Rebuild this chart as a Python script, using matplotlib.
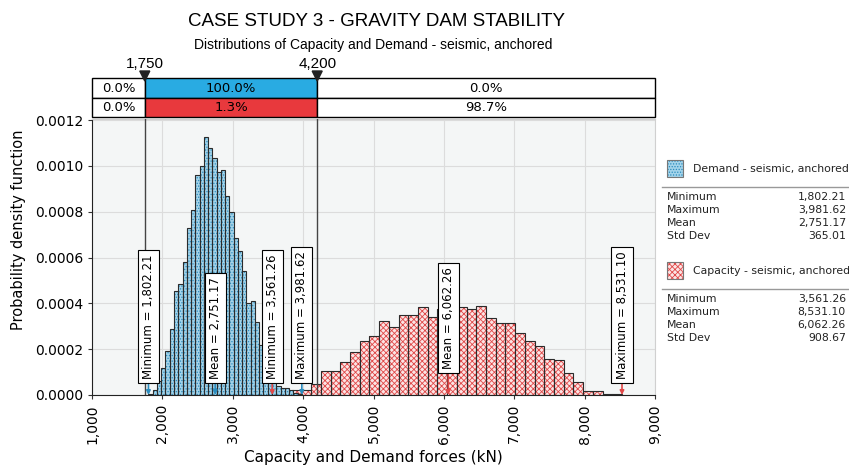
import matplotlib
matplotlib.use('Agg')
import matplotlib.pyplot as plt
import numpy as np
from matplotlib.patches import Rectangle, Polygon

# Données (densités par classe, 36 classes entre min et max)
demand_min, demand_max, demand_mean, demand_std = 1802.21, 3981.62, 2751.17, 365.01
demand_pdf = [0.000005, 0.00002, 0.00006, 0.00012, 0.00019, 0.00029, 0.000455, 0.000484,
              0.00058, 0.000728, 0.000808, 0.000961, 0.001001, 0.001128, 0.001077, 0.001034,
              0.000975, 0.00098, 0.00087, 0.000798, 0.000687, 0.00063, 0.00054, 0.0004,
              0.00041, 0.00032, 0.00022, 0.00016, 0.0001, 0.00006, 0.00004, 0.00003,
              0.00003, 0.00002, 0.00001, 0.000005]

capacity_min, capacity_max, capacity_mean, capacity_std = 3561.26, 8531.10, 6062.26, 908.67
capacity_pdf = [0.000007, 0.00001, 0.00002, 0.000023, 0.00005, 0.000106, 0.000106, 0.000146,
                0.000189, 0.000234, 0.000256, 0.000322, 0.000295, 0.000351, 0.000351, 0.000383,
                0.000342, 0.000376, 0.00037, 0.000383, 0.000376, 0.00039, 0.000335, 0.000314,
                0.000314, 0.000269, 0.000234, 0.000212, 0.000157, 0.000153, 0.000095, 0.000055,
                0.000019, 0.000016, 0.000004, 0.000003]

band_lo, band_hi = 1750, 4200
band_labels = ['1,750', '4,200']
demand_band = ['0.0%', '100.0%', '0.0%']
capacity_band = ['0.0%', '1.3%', '98.7%']

x_ticks = [1000, 2000, 3000, 4000, 5000, 6000, 7000, 8000, 9000]
y_ticks = [0.0, 0.0002, 0.0004, 0.0006, 0.0008, 0.0010, 0.0012]

W, H = 849, 467
narrow = 'Liberation Sans'
blue_face, blue_hatch = '#a4d4ea', '#2b8cbe'
red_face, red_hatch = '#fbe4e4', '#e04848'

fig = plt.figure(figsize=(W / 100, H / 100), dpi=100)
plt.rcParams['hatch.linewidth'] = 0.6

# Graphique principal
ax = fig.add_axes([92 / W, 1 - 395 / H, 563 / W, 276 / H])
ax.set_facecolor('#f4f6f6')


def draw_hist(pdf, vmin, vmax, face, hatch_col, hatch, z):
    edges = np.linspace(vmin, vmax, len(pdf) + 1)
    widths = np.diff(edges)
    ax.bar(edges[:-1], pdf, width=widths, align='edge', color=face,
           edgecolor=hatch_col, linewidth=0, hatch=hatch, zorder=z)
    ax.bar(edges[:-1], pdf, width=widths, align='edge', fill=False,
           edgecolor='#2b2b2b', linewidth=0.8, zorder=z + 0.1)


draw_hist(capacity_pdf, capacity_min, capacity_max, red_face, red_hatch, 'xxxxxx', 2)
draw_hist(demand_pdf, demand_min, demand_max, blue_face, blue_hatch, '......', 2.5)

ax.set_xlim(1000, 9000)
ax.set_ylim(0, 0.0012 * 276 / 275)
ax.set_xticks(x_ticks)
ax.set_xticklabels(['{:,}'.format(v) for v in x_ticks], rotation=90, fontsize=10)
ax.set_yticks(y_ticks)
ax.set_yticklabels(['{:.4f}'.format(v) for v in y_ticks], fontsize=10)
ax.tick_params(length=3, color='#333333')
ax.grid(True, color='#dcdcdc', linewidth=0.8, zorder=0)
ax.set_axisbelow(True)
for s in ['top', 'right']:
    ax.spines[s].set_color('#d0d0d0')
for s in ['left', 'bottom']:
    ax.spines[s].set_color('#222222')
ax.set_xlabel('Capacity and Demand forces (kN)', fontsize=11, labelpad=5)
ax.set_ylabel('Probability density function', fontsize=10.5)
ax.yaxis.set_label_coords(-0.118, 0.60)

for xv in (band_lo, band_hi):
    ax.axvline(xv, color='#444444', linewidth=1, zorder=4)

# Étiquettes des valeurs
markers = [
    ('Minimum = 1,802.21', demand_min, blue_hatch, 11.6),
    ('Mean = 2,751.17', demand_mean, blue_hatch, 11.6),
    ('Minimum = 3,561.26', capacity_min, red_hatch, 11.6),
    ('Maximum = 3,981.62', demand_max, blue_hatch, 11.6),
    ('Mean = 6,062.26', capacity_mean, red_hatch, 18.8),
    ('Maximum = 8,531.10', capacity_max, red_hatch, 11.6),
]
for txt, xv, col, off in markers:
    ax.annotate(txt, xy=(xv, 0), xytext=(0, off), textcoords='offset points',
                rotation=90, ha='center', va='bottom', fontsize=8.5, zorder=6,
                bbox=dict(boxstyle='square,pad=0.35', fc='white', ec='black', lw=0.8),
                arrowprops=dict(arrowstyle='-|>', color=col, lw=1.2, shrinkA=0,
                                shrinkB=0, mutation_scale=6))

# Bandeau du haut (pourcentages)
hx = fig.add_axes([92 / W, 1 - 118 / H, 563 / W, 62 / H])
hx.set_xlim(1000, 9000)
hx.set_ylim(118, 56)
hx.axis('off')
cols = [(1000, band_lo), (band_lo, band_hi), (band_hi, 9000)]
rows = [(78, 97.5, demand_band, '#29abe2'), (97.5, 117, capacity_band, '#e8393d')]
for y0, y1, labels, col in rows:
    for i, (x0, x1) in enumerate(cols):
        fc = col if i == 1 else 'white'
        hx.add_patch(Rectangle((x0, y0), x1 - x0, y1 - y0, fc=fc, ec='black', lw=1,
                               clip_on=False))
        hx.text((x0 + x1) / 2, (y0 + y1) / 2 + 0.5, labels[i], ha='center', va='center',
                fontsize=9.5)
for xv, lab in zip((band_lo, band_hi), band_labels):
    hw = 5 / 563 * 8000
    hx.add_patch(Polygon([(xv - hw, 71), (xv + hw, 71), (xv, 81)], closed=True,
                         fc='#222222', ec='#222222', clip_on=False, zorder=5))
    hx.text(xv, 64, lab, ha='center', va='center', fontsize=11, family=narrow)

# Titres
fig.text(377 / W, 1 - 21 / H, 'CASE STUDY 3 - GRAVITY DAM STABILITY', ha='center',
         va='center', fontsize=13.5, family=narrow)
fig.text(373 / W, 1 - 45 / H, 'Distributions of Capacity and Demand - seismic, anchored',
         ha='center', va='center', fontsize=10, family=narrow)

# Légende avec statistiques
lg = fig.add_axes([657 / W, 1 - 350 / H, 192 / W, 200 / H])
lg.set_xlim(657, 849)
lg.set_ylim(350, 150)
lg.axis('off')
legend_items = [
    ('Demand - seismic, anchored', 160, blue_face, blue_hatch, '......',
     [demand_min, demand_max, demand_mean, demand_std]),
    ('Capacity - seismic, anchored', 262, red_face, red_hatch, 'xxxxxx',
     [capacity_min, capacity_max, capacity_mean, capacity_std]),
]
stat_names = ['Minimum', 'Maximum', 'Mean', 'Std Dev']
for name, ytop, face, hcol, hatch, stats in legend_items:
    lg.add_patch(Rectangle((667, ytop), 16, 17, fc=face, ec=hcol, lw=0, hatch=hatch))
    lg.add_patch(Rectangle((667, ytop), 16, 17, fill=False, ec='#777777', lw=0.8))
    lg.text(693, ytop + 9, name, ha='left', va='center', fontsize=7.8, color='#222222')
    lg.plot([662, 849], [ytop + 27, ytop + 27], color='#999999', lw=1)
    for k, (sn, sv) in enumerate(zip(stat_names, stats)):
        yy = ytop + 37 + 13 * k
        lg.text(667, yy, sn, ha='left', va='center', fontsize=7.8, color='#222222')
        lg.text(846, yy, '{:,.2f}'.format(sv), ha='right', va='center', fontsize=7.8,
                color='#222222')

plt.savefig('out.png', dpi=100)
